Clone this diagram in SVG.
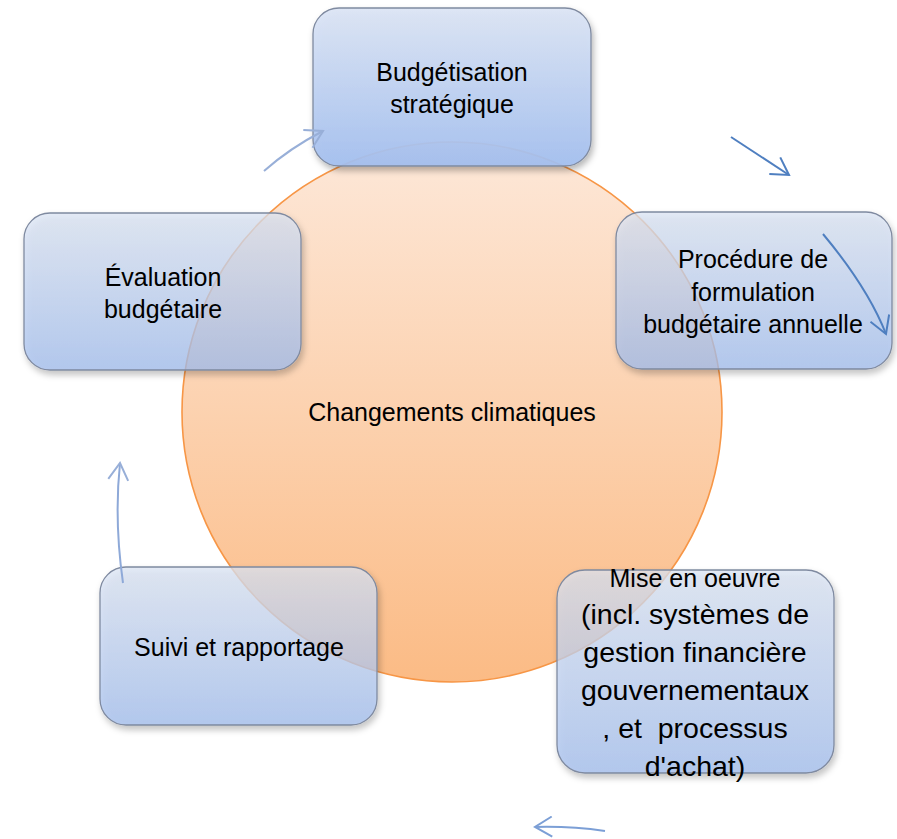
<svg xmlns="http://www.w3.org/2000/svg" width="897" height="839" viewBox="0 0 897 839">
  <defs>
    <linearGradient id="gCircle" x1="0" y1="0" x2="0" y2="1">
      <stop offset="0" stop-color="#fde8d9"/>
      <stop offset="1" stop-color="#fbbb85"/>
    </linearGradient>
    <linearGradient id="gBox" x1="0" y1="0" x2="0" y2="1">
      <stop offset="0" stop-color="#dce5f5"/>
      <stop offset="1" stop-color="#a3bff0"/>
    </linearGradient>
    <filter id="shadow" x="-10%" y="-10%" width="125%" height="130%">
      <feDropShadow dx="2" dy="4" stdDeviation="3" flood-color="#000" flood-opacity="0.3"/>
    </filter>
    <marker id="arrLight" viewBox="0 0 20 22" refX="18" refY="11" markerWidth="20" markerHeight="22" markerUnits="userSpaceOnUse" orient="auto">
      <path d="M1,1 L18,11 L1,21" fill="none" stroke="#98afd8" stroke-width="2"/>
    </marker>
    <marker id="arrDark" viewBox="0 0 20 22" refX="18" refY="11" markerWidth="20" markerHeight="22" markerUnits="userSpaceOnUse" orient="auto">
      <path d="M1,1 L18,11 L1,21" fill="none" stroke="#4f7fc0" stroke-width="2"/>
    </marker>
    <marker id="arrMid" viewBox="0 0 20 22" refX="18" refY="11" markerWidth="20" markerHeight="22" markerUnits="userSpaceOnUse" orient="auto">
      <path d="M1,1 L18,11 L1,21" fill="none" stroke="#7c9fd6" stroke-width="2"/>
    </marker>
  </defs>
  <style>
    text { font-family: "Liberation Sans", Arial, sans-serif; font-size: 25px; fill: #000; text-anchor: middle; }
    .big { font-size: 28.5px; }
    .box { fill: url(#gBox); stroke: #7f8aa0; stroke-width: 1.3; filter: url(#shadow); }
    .side { fill-opacity: 0.72; }
    .top { fill-opacity: 0.92; }
    .conn { fill: none; stroke-width: 2; }
  </style>
  <rect width="897" height="839" fill="#ffffff"/>

  <g id="center">
    <circle cx="452" cy="412" r="270" fill="url(#gCircle)" stroke="#f79646" stroke-width="1.6"/>
    <text x="452" y="421">Changements climatiques</text>
  </g>

  <g id="budgetisation">
    <rect class="box top" x="313" y="8" width="278" height="158" rx="26"/>
    <text x="452" y="81">Budgétisation</text>
    <text x="452" y="113">stratégique</text>
  </g>

  <g id="procedure">
    <rect class="box side" x="616" y="212" width="276" height="157" rx="26"/>
    <text x="753" y="268">Procédure de</text>
    <text x="753" y="301">formulation</text>
    <text x="753" y="333">budgétaire annuelle</text>
  </g>

  <g id="evaluation">
    <rect class="box side" x="24" y="213" width="277" height="157" rx="26"/>
    <text x="163" y="286">Évaluation</text>
    <text x="163" y="318">budgétaire</text>
  </g>

  <g id="suivi">
    <rect class="box side" x="100" y="567" width="277" height="158" rx="26"/>
    <text x="239" y="656">Suivi et rapportage</text>
  </g>

  <g id="miseenoeuvre">
    <rect class="box side" x="557" y="570" width="277" height="203" rx="28"/>
    <text x="695" y="587">Mise en oeuvre</text>
    <text class="big" x="695" y="624">(incl. systèmes de</text>
    <text class="big" x="695" y="662">gestion financière</text>
    <text class="big" x="695" y="700">gouvernementaux</text>
    <text class="big" x="695" y="738" xml:space="preserve">, et  processus</text>
    <text class="big" x="695" y="776">d'achat)</text>
  </g>

  <g id="connectors">
    <path class="conn" d="M264,171 Q290,148 323,131" stroke="#98afd8" marker-end="url(#arrLight)"/>
    <path class="conn" d="M731,137 L789,175" stroke="#4f7fc0" marker-end="url(#arrDark)"/>
    <path class="conn" d="M823,234 Q868,288 886,334" stroke="#4f7fc0" marker-end="url(#arrDark)"/>
    <path class="conn" d="M123,583 Q114,520 120,463" stroke="#8ea9d8" marker-end="url(#arrLight)"/>
    <path class="conn" d="M605,831 Q570,826 535,827" stroke="#7c9fd6" marker-end="url(#arrMid)"/>
  </g>
</svg>
